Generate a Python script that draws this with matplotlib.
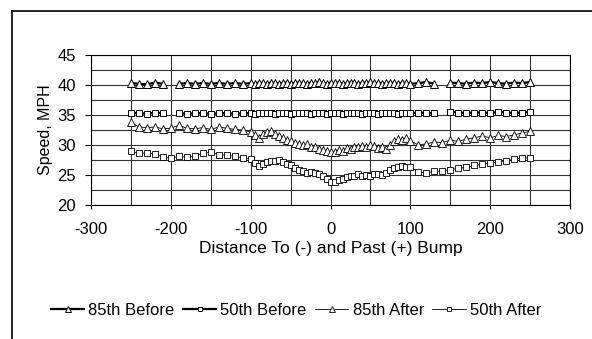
import numpy as np
import matplotlib.pyplot as plt
from matplotlib.lines import Line2D

nan = np.nan

# distance from bump (ft), denser sampling near the bump
distance = [-250, -240, -230, -220, -210, -200, -190, -180, -170, -160, -150, -140, -130, -120, -110,
            -100, -95, -90, -85, -80, -75, -70, -65, -60, -55, -50, -45, -40, -35, -30, -25, -20,
            -15, -10, -5, 0, 5, 10, 15, 20, 25, 30, 35, 40, 45, 50, 55, 60, 65, 70, 75, 80, 85,
            90, 95, 100,
            110, 120, 130, 140, 150, 160, 170, 180, 190, 200, 210, 220, 230, 240, 250]

p85_before = [40.3, 40.2, 40.1, 40.4, 40.2, nan, 40.2, 40.3, 40.2, 40.3, 40.2, 40.3, 40.2, 40.3, 40.2,
              40.3, 40.2, 40.4, 40.3, 40.2, 40.4, 40.3, 40.2, 40.3, 40.4, 40.2, 40.3, 40.4, 40.3,
              40.2, 40.4, 40.3, 40.5, 40.3, 40.2, 40.4, 40.3, 40.4, 40.2, 40.3, 40.4, 40.3, 40.2,
              40.4, 40.3, 40.5, 40.3, 40.4, 40.2, 40.3, 40.4, 40.3, 40.2, 40.4, 40.3, 40.2,
              40.3, 40.5, 40.2, nan, 40.4, 40.3, 40.2, 40.4, 40.3, 40.5, 40.3, 40.2, 40.4, 40.3, 40.5]

p50_before = [35.4, 35.3, 35.2, 35.4, 35.3, nan, 35.3, 35.2, 35.3, 35.3, 35.2, 35.3, 35.3, 35.2, 35.3,
              35.3, 35.2, 35.4, 35.3, 35.3, 35.4, 35.2, 35.3, 35.4, 35.3, 35.2, 35.4, 35.3, 35.3,
              35.4, 35.2, 35.3, 35.4, 35.3, 35.2, 35.3, 35.4, 35.3, 35.2, 35.4, 35.3, 35.3, 35.4,
              35.2, 35.3, 35.4, 35.3, 35.2, 35.4, 35.3, 35.3, 35.4, 35.2, 35.3, 35.4, 35.3,
              35.4, 35.3, 35.3, nan, 35.5, 35.4, 35.3, 35.4, 35.4, 35.3, 35.5, 35.4, 35.3, 35.4, 35.5]

p85_after = [33.8, 33.0, 32.9, 33.0, 32.7, 32.8, 33.3, 32.8, 32.7, 32.9, 32.6, 33.0, 32.8, 32.6, 32.5,
             32.2, 31.6, 31.2, 31.8, 32.1, 32.3, 31.9, 31.5, 31.2, 30.9, 30.6, 30.4, 30.2, 30.0,
             30.1, 29.7, 29.6, 29.4, 29.1, 29.0, 28.8, 28.9, 29.2, 29.0, 29.5, 29.3, 29.7, 29.6,
             29.9, 29.7, 30.0, 29.8, 29.5, 29.7, 29.4, 30.0, 30.6, 31.0, 30.8, 31.1, 30.7,
             30.0, 30.2, 30.5, 30.4, 30.8, 30.6, 31.0, 31.2, 31.5, 31.2, 31.6, 31.4, 31.7, 32.0, 32.3]

p50_after = [29.0, 28.6, 28.7, 28.5, 28.0, 27.8, 28.1, 28.0, 28.2, 28.6, 28.8, 28.4, 28.3, 28.1, 27.9,
             27.6, 27.0, 26.5, 26.8, 27.2, 27.4, 27.3, 27.5, 27.1, 26.8, 26.6, 26.2, 25.9, 25.6,
             25.4, 25.5, 25.3, 25.1, 24.8, 24.3, 23.8, 23.9, 24.2, 24.4, 24.6, 24.8, 24.9, 25.1,
             24.8, 25.0, 24.9, 25.1, 25.2, 25.0, 25.3, 25.8, 26.2, 26.4, 26.5, 26.4, 26.3,
             25.5, 25.4, 25.6, 25.7, 25.9, 26.1, 26.3, 26.6, 26.8, 27.0, 27.2, 27.4, 27.6, 27.9, 27.8]

plt.rcParams['font.family'] = ['Liberation Sans', 'DejaVu Sans']
plt.rcParams['axes.unicode_minus'] = False  # plain hyphens like the original

fig = plt.figure(figsize=(5.92, 3.39), dpi=100)
ax = fig.add_axes([0.1537, 0.395, 0.8093, 0.443])

ms = 5.5
ax.plot(distance, p85_before, color='black', lw=1.6, marker='^', ms=ms,
        mfc='white', mec='black', mew=0.7, label='85th Before', zorder=3)
ax.plot(distance, p50_before, color='black', lw=1.6, marker='s', ms=ms - 1,
        mfc='white', mec='black', mew=0.7, label='50th Before', zorder=3)
ax.plot(distance, p85_after, color='black', lw=0.6, marker='^', ms=ms,
        mfc='white', mec='black', mew=0.6, label='85th After', zorder=3)
ax.plot(distance, p50_after, color='black', lw=0.6, marker='s', ms=ms - 1,
        mfc='white', mec='black', mew=0.6, label='50th After', zorder=3)

ax.set_xlim(-300, 300)
ax.set_ylim(20, 45)
ax.set_xticks(np.arange(-300, 301, 100))
ax.set_xticks(np.arange(-300, 301, 50), minor=True)
ax.set_yticks(np.arange(20, 46, 5))
ax.set_yticks(np.arange(20, 46, 2.5), minor=True)
ax.grid(True, which='both', color='#333333', lw=0.8)
ax.set_axisbelow(True)
ax.tick_params(axis='x', which='major', labelsize=12, direction='out', length=3, width=0.8, pad=9)
ax.tick_params(axis='y', which='major', labelsize=12, direction='out', length=4, width=0.8, pad=7)
ax.tick_params(axis='both', which='minor', length=0)
for s in ax.spines.values():
    s.set_linewidth(0.8)

ax.set_xlabel('Distance To (-) and Past (+) Bump', fontsize=12.5, labelpad=3)
ax.set_ylabel('Speed, MPH', fontsize=11.5, labelpad=3)

fig.legend(loc='center', bbox_to_anchor=(0.5, 0.085), ncol=4, frameon=False,
           fontsize=12, handlelength=2.0, handletextpad=0.25, columnspacing=0.5,
           markerscale=0.75)

# outer frame of the scanned figure (left and top edges only)
fig.add_artist(Line2D([12 / 592, 12 / 592], [0, 1 - 11 / 339], transform=fig.transFigure,
                      color='black', lw=1.2))
fig.add_artist(Line2D([12 / 592, 1], [1 - 11 / 339, 1 - 11 / 339], transform=fig.transFigure,
                      color='black', lw=1.2))

fig.savefig('out.png', dpi=100)
